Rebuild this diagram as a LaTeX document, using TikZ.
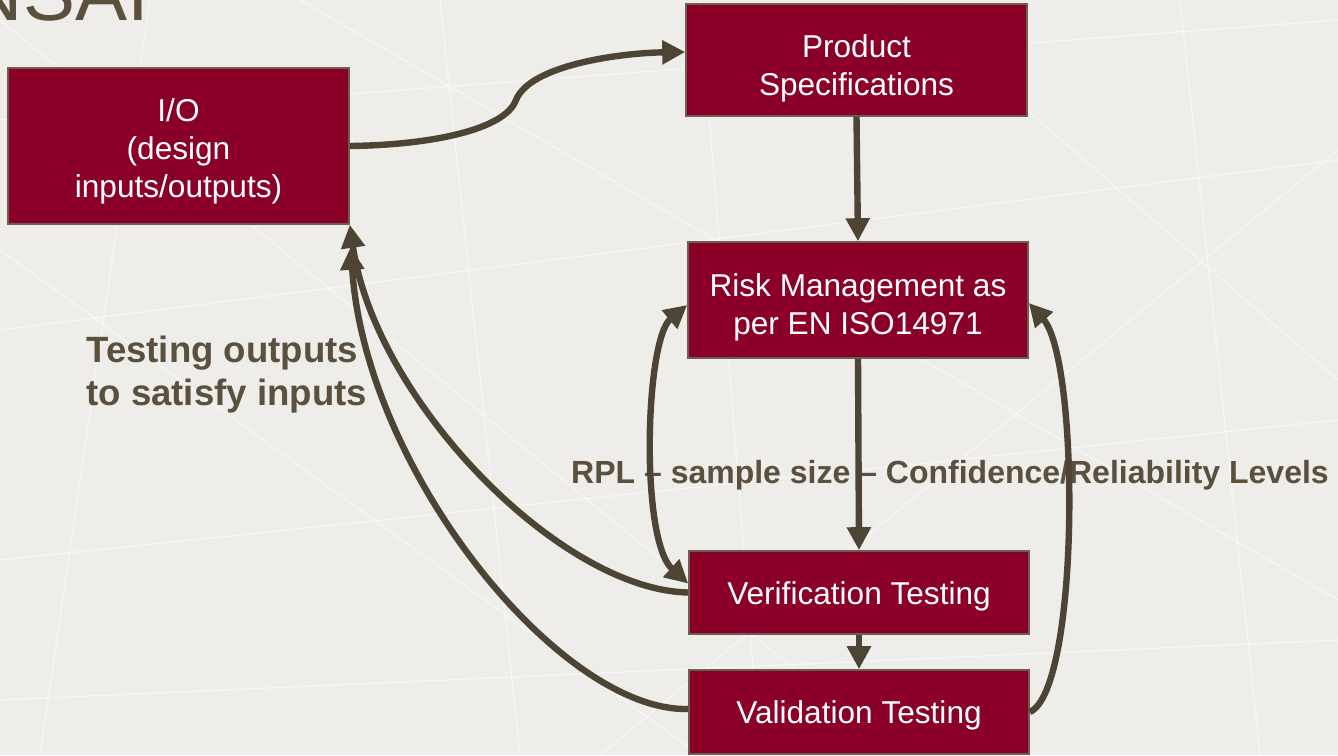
\documentclass[tikz,border=0pt]{standalone}
\usepackage{fontspec}
\setmainfont{Liberation Sans}
\usepackage{xcolor}
\usetikzlibrary{positioning,calc,arrows.meta}

\definecolor{bgc}{HTML}{EFEDEA}
\definecolor{boxc}{HTML}{8A0028}
\definecolor{edgec}{HTML}{6B604F}
\definecolor{arrc}{HTML}{4E4434}
\definecolor{txtc}{HTML}{5B4F3E}

% pushes the first line of a box down a little
\newcommand{\lift}[1]{\rule{0pt}{#1}}

\begin{document}
\begin{tikzpicture}[x=0.5pt, y=-0.5pt,
    box/.style={draw=edgec, line width=0.8pt, fill=boxc, text=white, align=center,
        inner sep=0pt, minimum width=170.5pt,
        font=\fontsize{15.8}{19}\selectfont},
    flow/.style={arrc, line width=3.2pt, -{Triangle[length=11.5pt,width=11.5pt]}},
    note/.style={text=txtc, inner sep=0pt, font=\fontsize{16}{19}\selectfont\bfseries}]
    \useasboundingbox (0,0) rectangle (1338,755);
    \clip (0,0) rectangle (1338,755);
    \fill[bgc] (0,0) rectangle (1338,755);

    % faint background texture
    \foreach \a/\b/\c/\d in {0/120/1338/20, 0/330/1338/160, 0/560/1338/420,
        150/0/40/755, 440/0/520/755, 700/0/760/755, 1180/0/1260/755,
        0/20/900/755, 300/0/1338/600, 0/700/1338/640, 600/755/1338/150,
        0/250/700/755, 900/0/1338/380}
        \draw[white, opacity=0.55, line width=0.6pt] (\a,\b) -- (\c,\d);

    \node[anchor=base east, text=txtc, font=\fontsize{39}{40}\selectfont] (title) at (156,20) {NSAI};

    \node[box, minimum height=78pt] (io) at (178.5,146) {\lift{17pt}I/O\\(design\\inputs/outputs)};
    \node[box, minimum height=56pt] (spec) at (856.5,60) {\lift{20pt}Product\\Specifications};
    \node[box, minimum height=58pt, minimum width=170pt] (risk) at (858,300) {\lift{18.5pt}Risk Management as\\per EN ISO14971};
    \node[box, minimum height=41.5pt, minimum width=170pt] (verif) at (859,592.5) {\lift{15.5pt}Verification Testing};
    \node[box, minimum height=42pt, minimum width=170pt] (valid) at (859,712) {\lift{14.5pt}Validation Testing};

    \node[note, anchor=west, align=left, font=\fontsize{18.3}{21.5}\selectfont\bfseries] (outs) at (86,375) {Testing outputs\\to satisfy inputs};
    \node[note] (rpl) at (950,475) {RPL -- sample size -- Confidence/Reliability Levels};

    \coordinate (iotip) at ($(io.south east)+(1,22)$);

    % main flow
    \draw[flow] (io.east) .. controls (430,145) and (505,130) .. (516,100)
        .. controls (530,65) and (620,53) .. ([yshift=4pt]spec.west);
    \draw[flow] (spec.south) -- (risk.north);
    \draw[flow] (risk.south) -- (verif.north);
    \draw[flow] (verif.south) -- (valid.north);

    % feedback loops
    \draw[flow, {Triangle[length=11.5pt,width=11.5pt]}-{Triangle[length=11.5pt,width=11.5pt]}]
        ([yshift=-2.5pt]risk.west) .. controls (645,340) and (640,540) .. ([yshift=4.5pt]verif.west);
    \draw[flow] (verif.west) .. controls (560,590) and (375,400) .. (io.south east);
    \draw[flow] ([yshift=1.5pt]valid.west) .. controls (560,712) and (365,470) .. (iotip);
    \draw[flow] (valid.east) .. controls (1080,690) and (1080,360) .. ([yshift=-1.5pt]risk.east);
\end{tikzpicture}
\end{document}
